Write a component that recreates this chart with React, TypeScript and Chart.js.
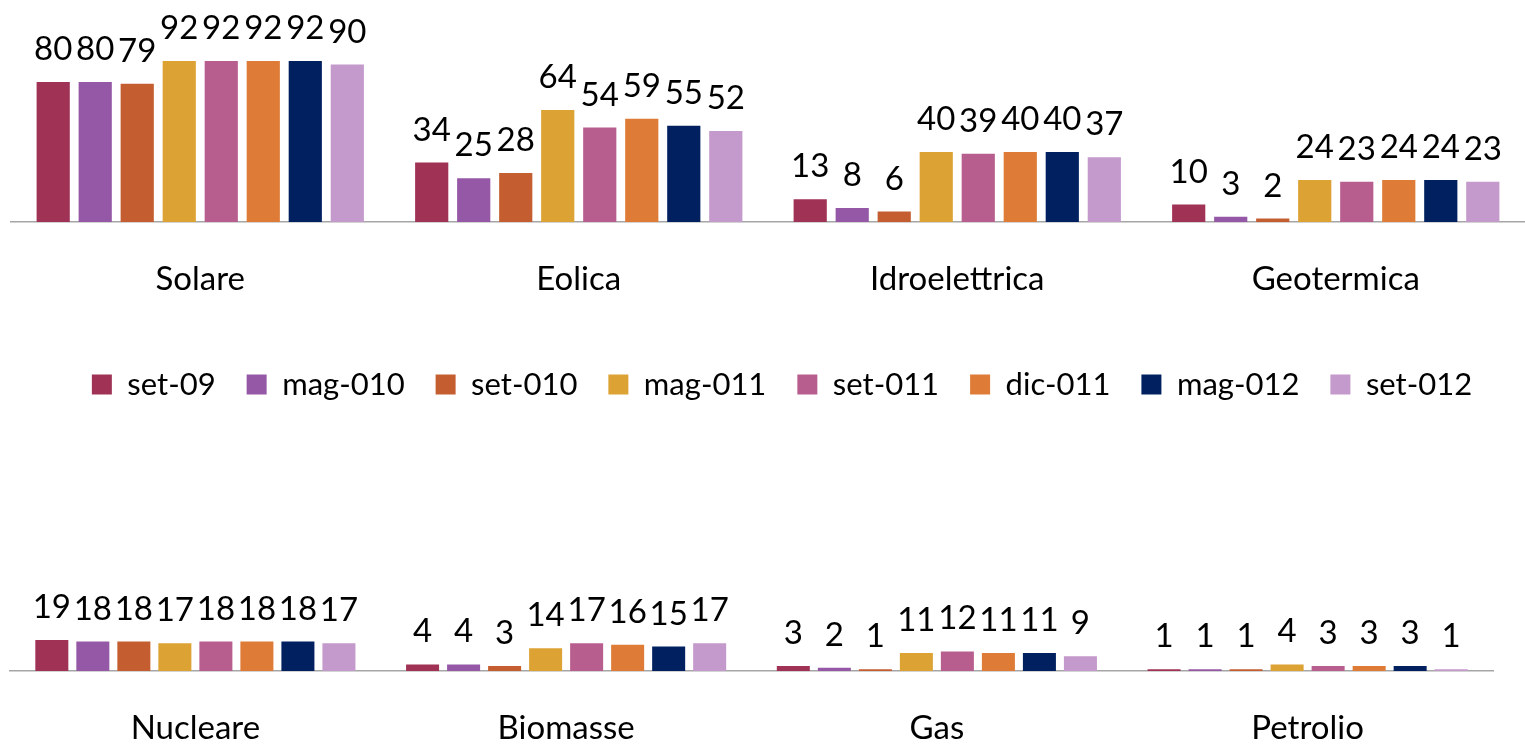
import React, { useEffect, useRef } from "react";
import { Chart, registerables } from "chart.js";

Chart.register(...registerables);

const FONT = "Lato, 'Open Sans', 'DejaVu Sans', sans-serif";

const seriesLabels = ["set-09", "mag-010", "set-010", "mag-011", "set-011", "dic-011", "mag-012", "set-012"];
const seriesColors = ["#A03355", "#9558A6", "#C45E30", "#DCA233", "#B85E8F", "#DE7B37", "#002060", "#C499CB"];

const topCategories = ["Solare", "Eolica", "Idroelettrica", "Geotermica"];
const bottomCategories = ["Nucleare", "Biomasse", "Gas", "Petrolio"];

// Top panel values (Solare, Eolica, Idroelettrica, Geotermica)
const topSet09 = [80, 34, 13, 10];
const topMag010 = [80, 25, 8, 3];
const topSet010 = [79, 28, 6, 2];
const topMag011 = [92, 64, 40, 24];
const topSet011 = [92, 54, 39, 23];
const topDic011 = [92, 59, 40, 24];
const topMag012 = [92, 55, 40, 24];
const topSet012 = [90, 52, 37, 23];

// Bottom panel values (Nucleare, Biomasse, Gas, Petrolio)
const botSet09 = [19, 4, 3, 1];
const botMag010 = [18, 4, 2, 1];
const botSet010 = [18, 3, 1, 1];
const botMag011 = [17, 14, 11, 4];
const botSet011 = [18, 17, 12, 3];
const botDic011 = [18, 16, 11, 3];
const botMag012 = [18, 15, 11, 3];
const botSet012 = [17, 17, 9, 1];

const topSeries = [topSet09, topMag010, topSet010, topMag011, topSet011, topDic011, topMag012, topSet012];
const bottomSeries = [botSet09, botMag010, botSet010, botMag011, botSet011, botDic011, botMag012, botSet012];

const valueLabels = {
  id: "valueLabels",
  afterDatasetsDraw(chart: any) {
    const ctx = chart.ctx;
    ctx.save();
    ctx.font = `33px ${FONT}`;
    ctx.fillStyle = "#000000";
    ctx.textAlign = "center";
    ctx.textBaseline = "alphabetic";
    chart.data.datasets.forEach((ds: any, i: number) => {
      const meta = chart.getDatasetMeta(i);
      meta.data.forEach((el: any, j: number) => {
        ctx.fillText(String(ds.data[j]), el.x, el.y - 22);
      });
    });
    ctx.restore();
  },
};

// nudges the legend row slightly right, as in the reference
const legendShift = {
  id: "legendShift",
  afterLayout(chart: any) {
    const lg = chart.legend;
    if (lg) {
      lg.left += 14;
      lg.right += 14;
    }
  },
};

function buildDatasets(series: number[][], catPct: number, barPct: number) {
  return series.map((data, i) => ({
    label: seriesLabels[i],
    data,
    backgroundColor: seriesColors[i],
    borderWidth: 0,
    categoryPercentage: catPct,
    barPercentage: barPct,
  }));
}

export default function App() {
  const topRef = useRef<HTMLCanvasElement | null>(null);
  const botRef = useRef<HTMLCanvasElement | null>(null);

  useEffect(() => {
    let top: Chart | null = null;
    let bot: Chart | null = null;
    let cancelled = false;

    const create = () => {
      if (cancelled || !topRef.current || !botRef.current) return;
      top = new Chart(topRef.current, {
        type: "bar",
        data: {
          labels: topCategories,
          datasets: buildDatasets(topSeries, 0.888, 0.79) as any,
        },
        options: {
          responsive: false,
          animation: false,
          layout: { padding: { top: 47, left: 11, right: 0, bottom: 0 } },
          plugins: {
            legend: {
              position: "bottom",
              labels: {
                boxWidth: 20,
                boxHeight: 20,
                padding: 31,
                color: "#000000",
                font: { family: FONT, size: 31 },
              },
            },
            tooltip: { enabled: false },
          },
          scales: {
            x: {
              grid: { display: false, drawTicks: false },
              border: { display: true, color: "#A6A6A6", width: 1.5 },
              ticks: {
                color: "#000000",
                font: { family: FONT, size: 33 },
                padding: 38,
                maxRotation: 0,
                autoSkip: false,
              },
              afterFit: (s: any) => {
                s.height = 116;
              },
            },
            y: { display: false, min: 0, max: 100 },
          },
        },
        plugins: [valueLabels, legendShift],
      });

      bot = new Chart(botRef.current, {
        type: "bar",
        data: {
          labels: bottomCategories,
          datasets: buildDatasets(bottomSeries, 0.885, 0.805) as any,
        },
        options: {
          responsive: false,
          animation: false,
          layout: { padding: { top: 212, left: 10, right: 32, bottom: 0 } },
          plugins: {
            legend: { display: false },
            tooltip: { enabled: false },
          },
          scales: {
            x: {
              grid: { display: false, drawTicks: false },
              border: { display: true, color: "#A6A6A6", width: 1.5 },
              ticks: {
                color: "#000000",
                font: { family: FONT, size: 33 },
                padding: 38,
                maxRotation: 0,
                autoSkip: false,
              },
              afterFit: (s: any) => {
                s.height = 74;
              },
            },
            y: { display: false, min: 0, max: 30 },
          },
        },
        plugins: [valueLabels],
      });
    };

    const fonts = (document as any).fonts;
    if (fonts && fonts.load) {
      Promise.all([fonts.load(`33px Lato`), fonts.load(`31px Lato`)])
        .catch(() => undefined)
        .then(create);
    } else {
      create();
    }

    return () => {
      cancelled = true;
      if (top) top.destroy();
      if (bot) bot.destroy();
    };
  }, []);

  return (
    <div
      style={{
        position: "absolute",
        left: 0,
        top: 0,
        width: 1525,
        height: 745,
        background: "#ffffff",
        overflow: "hidden",
      }}
    >
      <canvas
        ref={topRef}
        width={1525}
        height={410}
        style={{ position: "absolute", left: 0, top: 0, width: 1525, height: 410 }}
      />
      <canvas
        ref={botRef}
        width={1525}
        height={335}
        style={{ position: "absolute", left: 0, top: 410, width: 1525, height: 335 }}
      />
    </div>
  );
}
